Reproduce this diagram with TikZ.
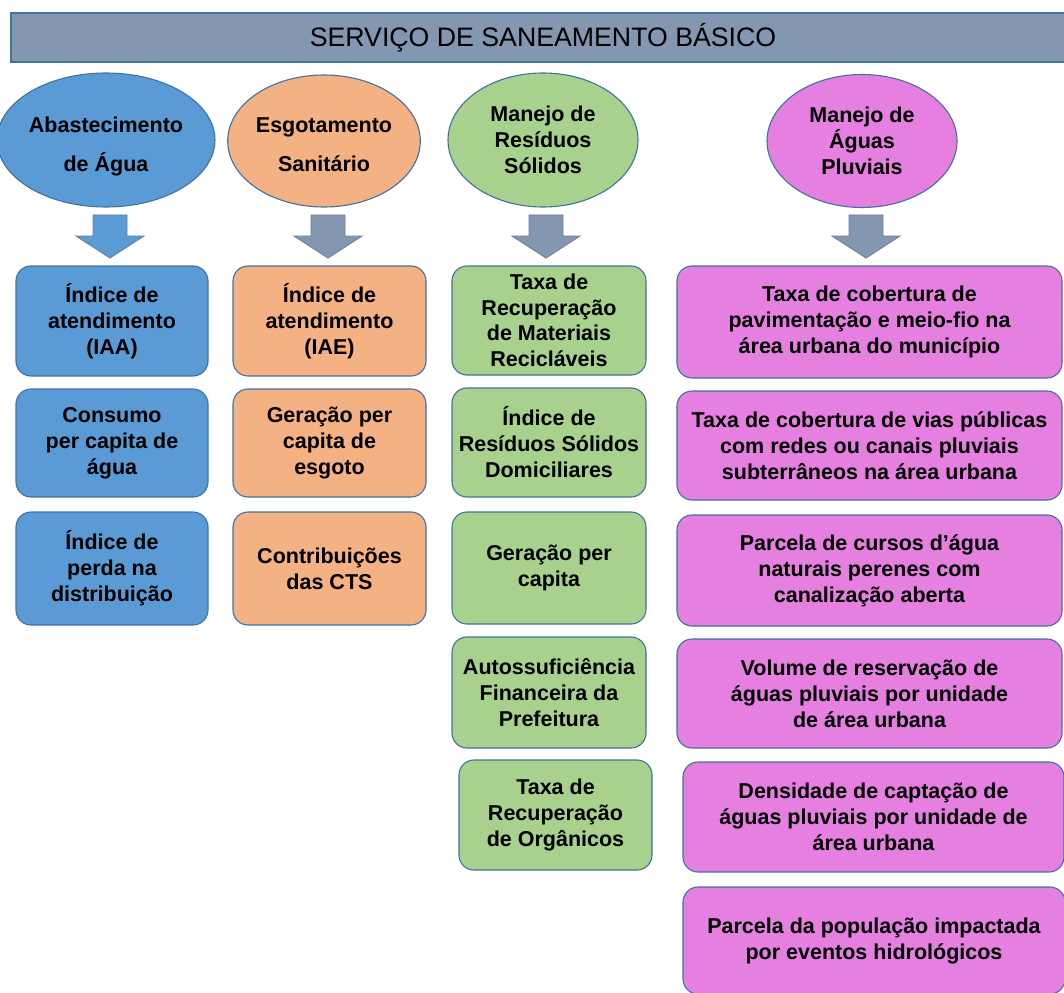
\documentclass[tikz,border=0pt]{standalone}
\usepackage{fontspec}
\setmainfont{Liberation Sans}
\usetikzlibrary{shapes.geometric}

\definecolor{edgeblue}{HTML}{41719C}
\definecolor{titlegray}{HTML}{8497B0}
\definecolor{aguablue}{HTML}{5B9BD5}
\definecolor{esgotoorange}{HTML}{F4B183}
\definecolor{residgreen}{HTML}{A9D18E}
\definecolor{pluvpink}{HTML}{E680E0}
\definecolor{arrowedge}{HTML}{6A7F9C}

\tikzset{
  indbox/.style={draw=edgeblue, line width=1.1pt, rounded corners=15pt, align=center,
    inner sep=0pt, font=\bfseries\fontsize{21.5}{26}\selectfont},
  eixo/.style={ellipse, draw=edgeblue, line width=1.1pt, align=center, inner sep=0pt,
    font=\bfseries\fontsize{21.5}{26}\selectfont},
  seta/.style={draw=arrowedge, line width=0.9pt, fill=titlegray}
}

\begin{document}
\begin{tikzpicture}[x=1pt, y=-1pt]
  \useasboundingbox (0,0) rectangle (1064,992);

  % title bar
  \node[draw=edgeblue, line width=1.3pt, fill=titlegray, minimum width=1064, minimum height=49,
    inner sep=0pt, font=\fontsize{26.7}{30}\selectfont] (titulo) at (543,37.5) {SERVIÇO DE SANEAMENTO BÁSICO};

  % the four services
  \node[eixo, fill=aguablue, minimum width=210, minimum height=134, text height=68pt,
    font=\bfseries\fontsize{21.5}{39}\selectfont] (abast) at (106,140) {Abastecimento\\de Água};
  \node[eixo, fill=esgotoorange, minimum width=190, minimum height=132, text height=62pt,
    font=\bfseries\fontsize{21.5}{39}\selectfont] (esgot) at (324,141) {Esgotamento\\Sanitário};
  \node[eixo, fill=residgreen, minimum width=190, minimum height=134] (resid) at (543,140) {Manejo de\\Resíduos\\Sólidos};
  \node[eixo, fill=pluvpink, minimum width=190, minimum height=133] (pluv) at (862,141) {Manejo de\\Águas\\Pluviais};

  % block arrows
  \foreach \ax/\ac in {110/aguablue, 328/titlegray, 546/titlegray, 866/titlegray}
    \draw[seta, fill=\ac] (\ax-17,215) -- (\ax+17,215) -- (\ax+17,236) -- (\ax+34,236)
      -- (\ax,258) -- (\ax-34,236) -- (\ax-17,236) -- cycle;

  % Abastecimento de Agua
  \node[indbox, fill=aguablue, minimum width=192, minimum height=110] (abast1) at (112,321) {Índice de\\atendimento\\(IAA)};
  \node[indbox, fill=aguablue, minimum width=192, minimum height=108] (abast2) at (112,443) {Consumo\\per capita de\\água};
  \node[indbox, fill=aguablue, minimum width=192, minimum height=113] (abast3) at (112,568.5) {Índice de\\perda na\\distribuição};

  % Esgotamento Sanitario
  \node[indbox, fill=esgotoorange, minimum width=193, minimum height=110] (esgot1) at (329.5,321) {Índice de\\atendimento\\(IAE)};
  \node[indbox, fill=esgotoorange, minimum width=193, minimum height=108] (esgot2) at (329.5,443) {Geração per\\capita de\\esgoto};
  \node[indbox, fill=esgotoorange, minimum width=193, minimum height=113] (esgot3) at (329.5,568.5) {Contribuições\\das CTS};

  % Residuos Solidos
  \node[indbox, fill=residgreen, minimum width=194, minimum height=109,
    font=\bfseries\fontsize{21.5}{25.5}\selectfont] (resid1) at (549,320.5) {Taxa de\\Recuperação\\de Materiais\\Recicláveis};
  \node[indbox, fill=residgreen, minimum width=194, minimum height=109] (resid2) at (549,442.5) {Índice de\\Resíduos Sólidos\\Domiciliares};
  \node[indbox, fill=residgreen, minimum width=194, minimum height=112] (resid3) at (549,568) {Geração per\\capita};
  \node[indbox, fill=residgreen, minimum width=194, minimum height=111] (resid4) at (549,692.5) {Autossuficiência\\Financeira da\\Prefeitura};
  \node[indbox, fill=residgreen, minimum width=193, minimum height=110] (resid5) at (555.5,815) {Taxa de\\Recuperação\\de Orgânicos};

  % Aguas Pluviais
  \node[indbox, fill=pluvpink, minimum width=385, minimum height=112] (pluv1) at (869.5,322) {Taxa de cobertura de\\pavimentação e meio-fio na\\área urbana do município};
  \node[indbox, fill=pluvpink, minimum width=385, minimum height=109] (pluv2) at (869.5,445.5) {Taxa de cobertura de vias públicas\\com redes ou canais pluviais\\subterrâneos na área urbana};
  \node[indbox, fill=pluvpink, minimum width=385, minimum height=111] (pluv3) at (869.5,570.5) {Parcela de cursos d’água\\naturais perenes com\\canalização aberta};
  \node[indbox, fill=pluvpink, minimum width=385, minimum height=109] (pluv4) at (869.5,693.5) {Volume de reservação de\\águas pluviais por unidade\\de área urbana};
  \node[indbox, fill=pluvpink, minimum width=381, minimum height=110] (pluv5) at (873.5,817) {Densidade de captação de\\águas pluviais por unidade de\\área urbana};
  \node[indbox, fill=pluvpink, minimum width=382, minimum height=107] (pluv6) at (874,940.5) {Parcela da população impactada\\por eventos hidrológicos};
\end{tikzpicture}
\end{document}
